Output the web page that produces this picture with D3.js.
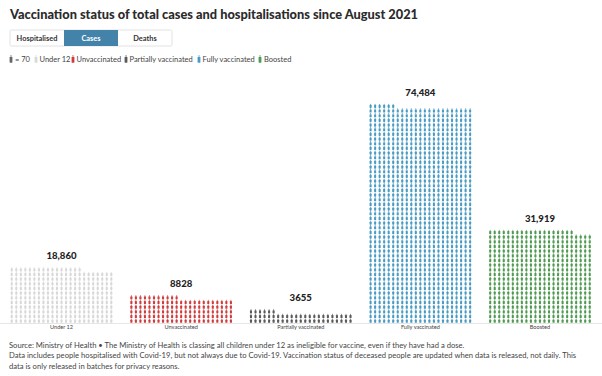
<!DOCTYPE html>
<html>
<head>
<meta charset="utf-8">
<script src="https://d3js.org/d3.v7.min.js"></script>
<style>
    html, body { margin: 0; padding: 0; background: #fff; }
    text { font-family: "Lato", "Open Sans", sans-serif; fill: #333; }
    .title { font-size: 12.8px; font-weight: 900; fill: #2b2b2b; }
    .btn-label { font-size: 7.4px; font-weight: 700; text-anchor: middle; }
    .legend { font-size: 7.5px; fill: #444; }
    .value { font-size: 9.6px; font-weight: 900; text-anchor: middle; fill: #222; }
    .cat { font-size: 5.6px; text-anchor: middle; fill: #444; }
    .note { font-size: 7.65px; fill: #444; }
</style>
</head>
<body>
<svg id="chart" width="602" height="376"></svg>
<script>
    const categories = ["Under 12", "Unvaccinated", "Partially vaccinated", "Fully vaccinated", "Boosted"];
    const values = [18860, 8828, 3655, 74484, 31919];
    const valueLabels = ["18,860", "8828", "3655", "74,484", "31,919"];
    const colors = ["#d8d8d8", "#d23b3b", "#5a5a5a", "#4a9bc3", "#4f9a50"];
    const perIcon = 70;
    const perColumn = 23;
    const buttons = ["Hospitalised", "Cases", "Deaths"];
    const notes = [
        "Source: Ministry of Health \u2022 The Ministry of Health is classing all children under 12 as ineligible for vaccine, even if they have had a dose.",
        "Data includes people hospitalised with Covid-19, but not always due to Covid-19. Vaccination status of deceased people are updated when data is released, not daily. This",
        "data is only released in batches for privacy reasons."
    ];

    const svg = d3.select("#chart");

    svg.append("text").attr("class", "title").attr("x", 10).attr("y", 19)
        .text("Vaccination status of total cases and hospitalisations since August 2021");

    // toggle buttons
    const btnX = d3.scaleBand().domain(buttons).range([10, 172]);
    svg.append("rect").attr("x", 10).attr("y", 30).attr("width", 162).attr("height", 16)
        .attr("rx", 1.5).attr("fill", "#fff").attr("stroke", "#e2e2e2");
    buttons.forEach(b => {
        if (b === "Cases") {
            svg.append("rect").attr("x", btnX(b)).attr("y", 30)
                .attr("width", btnX.bandwidth()).attr("height", 16).attr("fill", "#4383a9");
        }
        svg.append("text").attr("class", "btn-label")
            .attr("x", btnX(b) + btnX.bandwidth() / 2).attr("y", 40.7)
            .style("fill", b === "Cases" ? "#fff" : "#333")
            .text(b);
    });

    // one person: head and body, drawn centred on 0,0
    function person(g, color, w, h) {
        g.append("circle").attr("cx", 0).attr("cy", -h / 2 + w * 0.22).attr("r", w * 0.24).attr("fill", color);
        g.append("rect").attr("x", -w / 2).attr("y", -h / 2 + w * 0.5)
            .attr("width", w).attr("height", h - w * 0.5).attr("rx", w * 0.3).attr("fill", color);
    }

    // legend
    const legendItems = [
        { x: 11, color: "#666", label: "= 70", tx: 15 },
        { x: 36, color: colors[0], label: categories[0], tx: 39.5 },
        { x: 73, color: colors[1], label: categories[1], tx: 76.5 },
        { x: 126, color: colors[2], label: categories[2], tx: 129.5 },
        { x: 199, color: colors[3], label: categories[3], tx: 202.5 },
        { x: 260, color: colors[4], label: categories[4], tx: 264 }
    ];
    legendItems.forEach(d => {
        person(svg.append("g").attr("transform", `translate(${d.x},59)`), d.color, 2.8, 7.5);
        svg.append("text").attr("class", "legend").attr("x", d.tx).attr("y", 61.8).text(d.label);
    });

    // chart
    const baseline = 323;
    const rowH = 4.67;
    const x = d3.scaleBand().domain(categories).range([9.5, 592]).paddingInner(0.13).paddingOuter(0);
    const col = d3.scaleBand().domain(d3.range(perColumn)).range([0, x.bandwidth()]);
    const y = d3.scaleLinear().domain([0, 47]).range([baseline, baseline - 47 * rowH]);

    svg.append("line").attr("x1", 0).attr("x2", 602).attr("y1", baseline + 0.5).attr("y2", baseline + 0.5)
        .attr("stroke", "#e6e6e6");

    categories.forEach((c, i) => {
        const n = Math.round(values[i] / perIcon);
        const g = svg.append("g").attr("transform", `translate(${x(c)},0)`);
        d3.range(n).forEach(k => {
            const cx = col(k % perColumn) + col.bandwidth() / 2;
            const row = Math.floor(k / perColumn);
            const cy = y(row + 0.5);
            person(g.append("g").attr("transform", `translate(${cx},${cy})`), colors[i], 2.1, 4.2);
        });
        const rows = Math.ceil(n / perColumn);
        svg.append("text").attr("class", "value")
            .attr("x", x(c) + x.bandwidth() / 2).attr("y", y(rows) - 8)
            .text(valueLabels[i]);
        svg.append("text").attr("class", "cat")
            .attr("x", x(c) + x.bandwidth() / 2).attr("y", 329)
            .text(c);
    });

    // footnotes
    notes.forEach((t, i) => {
        svg.append("text").attr("class", "note").attr("x", 9).attr("y", [348, 358, 369][i]).text(t);
    });
</script>
</body>
</html>
